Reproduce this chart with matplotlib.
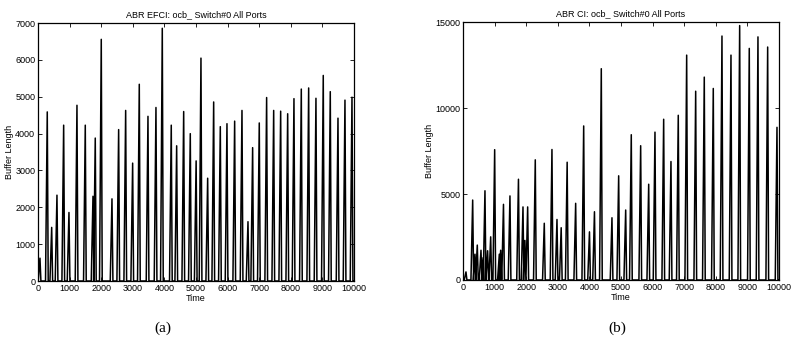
import matplotlib
matplotlib.use("Agg")
import matplotlib.pyplot as plt
import numpy as np

plt.rcParams['font.family'] = ['Liberation Sans', 'DejaVu Sans']

# peak times and heights
efci_t = [63, 294, 434, 601, 813, 981, 1234, 1497, 1741, 1813, 2003, 2342,
          2553, 2775, 2996, 3206, 3481, 3734, 3934, 4218, 4389, 4611, 4820,
          5005, 5158, 5370, 5560, 5770, 5981, 6224, 6456, 6646, 6793, 7003,
          7236, 7459, 7680, 7902, 8101, 8333, 8566, 8797, 9028, 9250, 9494,
          9715, 9937]
efci_v = [620, 4590, 1455, 2330, 4230, 1860, 4770, 4230, 2300, 3880, 6560, 2230,
          4110, 4630, 3200, 5340, 4470, 4710, 6860, 4230, 3670, 4600, 4000,
          3260, 6050, 2790, 4860, 4190, 4270, 4340, 4630, 1610, 3620, 4290,
          4980, 4630, 4610, 4540, 4950, 5210, 5240, 4960, 5580, 5140, 4420,
          4910, 4990]

ci_t = [95, 307, 380, 453, 570, 640, 696, 780, 877, 1003, 1150, 1193, 1282,
        1487, 1756, 1899, 1960, 2047, 2288, 2573, 2816, 2975, 3108, 3297,
        3566, 3820, 4003, 4161, 4377, 4715, 4927, 5149, 5326, 5623, 5877,
        6076, 6351, 6582, 6813, 7079, 7364, 7636, 7921, 8196, 8481, 8756,
        9060, 9335, 9642, 9937]
ci_v = [470, 4650, 1500, 2030, 1730, 1300, 5190, 1700, 2510, 7580, 1500, 1730, 4400,
        4890, 5860, 4250, 2300, 4250, 6990, 3300, 7590, 3520, 3040, 6850,
        4460, 8960, 2800, 3970, 12290, 3620, 6060, 4070, 8450, 7810, 5570,
        8600, 9350, 6890, 9580, 13080, 10980, 11800, 11140, 14190, 13080, 14800,
        13470, 14140, 13550, 8880]

time_ticks = np.arange(0, 10001, 1000)


def spikes(pt, pv, rise=55, fall=30):
    xs, ys = [0], [0]
    for t, v in zip(pt, pv):
        xs += [t - rise, t, t + fall]
        ys += [0, v, 0]
    xs.append(10000)
    ys.append(0)
    return xs, ys


fig = plt.figure(figsize=(7.91, 3.38), dpi=100)
ax1 = fig.add_axes([0.048, 0.1686, 0.3995, 0.763])
ax2 = fig.add_axes([0.5853, 0.1716, 0.3995, 0.763])

for ax, pt, pv, ttl, yt, ytop in [
        (ax1, efci_t, efci_v, "ABR EFCI: ocb_ Switch#0 All Ports", np.arange(0, 7001, 1000), 7000),
        (ax2, ci_t, ci_v, "ABR CI: ocb_ Switch#0 All Ports", np.arange(0, 15001, 5000), 15000)]:
    xs, ys = spikes(pt, pv)
    ax.plot(xs, ys, color='black', lw=1.1)
    ax.set_xlim(0, 10000)
    ax.set_ylim(0, ytop)
    ax.set_xticks(time_ticks)
    ax.set_yticks(yt)
    ax.tick_params(direction='in', top=True, right=True, labelsize=6.5,
                   length=3, width=0.6, pad=2)
    ax.set_title(ttl, fontsize=6.5, pad=4)
    ax.set_xlabel("Time", fontsize=6.5, labelpad=1)
    ax.set_ylabel("Buffer Length", fontsize=6.5, labelpad=1)
    for s in ax.spines.values():
        s.set_linewidth(0.9)

fig.text(0.206, 0.03, "(a)", fontsize=11, family='Liberation Serif', ha='center', va='center')
fig.text(0.780, 0.03, "(b)", fontsize=11, family='Liberation Serif', ha='center', va='center')

fig.savefig("out.png", dpi=100)
